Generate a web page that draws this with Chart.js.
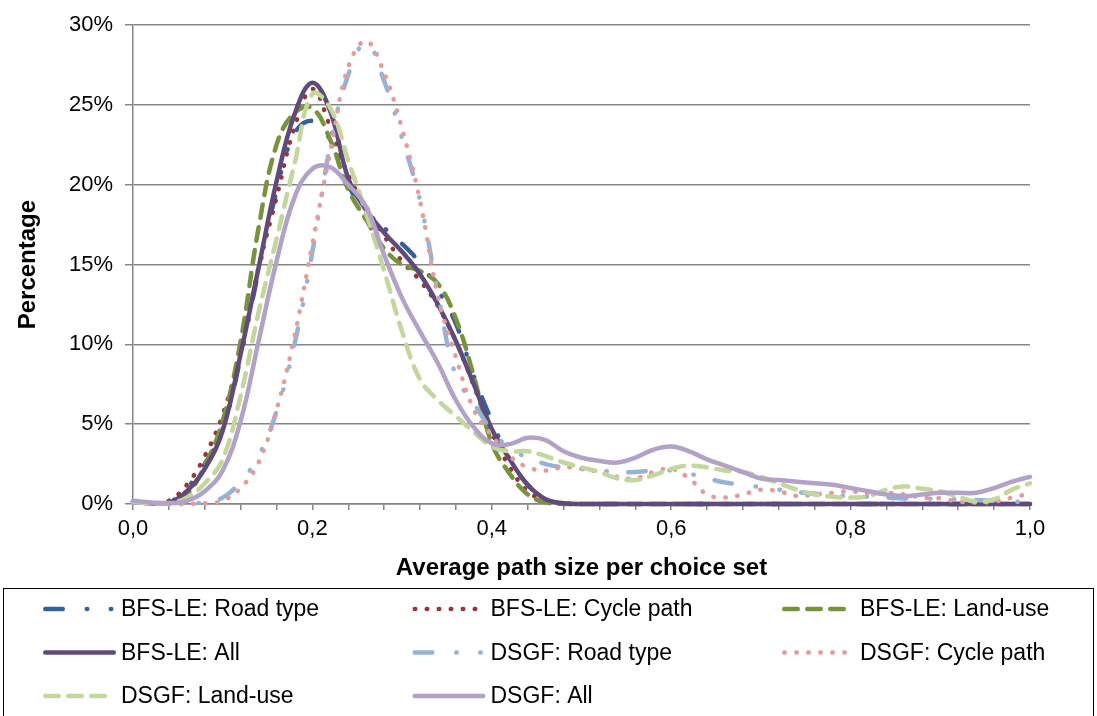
<!DOCTYPE html>
<html>
<head>
<meta charset="utf-8">
<script src="https://cdn.jsdelivr.net/npm/chart.js@4/dist/chart.umd.min.js"></script>
<style>
  body { margin: 0; background: #fff; }
  #wrap { width: 1097px; height: 716px; }
</style>
</head>
<body>
<div id="wrap"><canvas id="chart" width="1097" height="716"></canvas></div>
<script>
// x values (average path size per choice set)
const pathSize = [0.00,0.02,0.04,0.06,0.08,0.10,0.12,0.14,0.16,0.18,0.20,0.22,0.24,0.26,0.28,0.30,0.32,0.34,0.36,0.38,
                  0.40,0.42,0.44,0.46,0.48,0.50,0.52,0.54,0.56,0.58,0.60,0.62,0.64,0.66,0.68,0.70,0.72,0.74,0.76,0.78,
                  0.80,0.82,0.84,0.86,0.88,0.90,0.92,0.94,0.96,0.98,1.00];

const xTickLabels = ['0,0', '0,2', '0,4', '0,6', '0,8', '1,0'];
const yTickLabels = ['0%', '5%', '10%', '15%', '20%', '25%', '30%'];

const seriesNames = ['BFS-LE: Road type', 'BFS-LE: Cycle path', 'BFS-LE: Land-use', 'BFS-LE: All',
                     'DSGF: Road type', 'DSGF: Cycle path', 'DSGF: Land-use', 'DSGF: All'];

// percentages
const bfsRoad  = [0.15,0.05,0.1,1.0,2.5,4.7,9.2,14.6,19.6,23.2, 24.0,22.8,20.0,18.2,17.3,16.3,15.1,13.4,11.3,8.0,
                  5.2,2.8,1.2,0.3,0.05,0,0,0,0,0, 0,0,0,0,0,0,0,0,0,0, 0,0,0,0,0,0,0,0,0,0,0];
const bfsCycle = [0.15,0.05,0.2,1.2,3.0,5.6,9.6,14.8,19.2,23.6, 26.0,23.6,20.6,18.6,16.8,15.2,14.0,12.4,10.2,7.4,
                  4.5,2.3,0.8,0.2,0.05,0,0,0,0,0, 0,0,0,0,0,0,0,0,0,0, 0,0,0,0,0,0,0,0,0,0,0];
const bfsLand  = [0.15,0.05,0.1,0.6,2.4,5.2,10.2,17.3,22.5,24.5, 24.8,22.8,19.7,17.8,16.0,15.0,14.6,13.8,11.6,8.0,
                  3.8,1.9,0.6,0.1,0,0,0,0,0,0, 0,0,0,0,0,0,0,0,0,0, 0,0,0,0,0,0,0,0,0,0,0];
const bfsAll   = [0.15,0.05,0.05,0.8,2.2,4.6,9.4,14.8,20.2,24.4, 26.4,24.6,20.4,18.4,17.0,15.8,14.4,12.5,10.2,7.5,
                  4.7,2.8,1.2,0.3,0.05,0,0,0,0,0, 0,0,0,0,0,0,0,0,0,0, 0,0,0,0,0,0,0,0,0,0,0];
const dsgfRoad = [0.1,0.05,0.05,0.05,0.1,0.4,1.4,3.0,5.8,10.0, 15.8,22.5,26.9,28.9,26.5,22.9,19.0,13.2,8.0,6.3,
                  4.6,3.5,2.9,2.5,2.3,2.2,2.1,2.0,2.0,2.1, 2.1,1.9,1.6,1.35,1.2,1.05,0.9,0.75,0.65,0.55,
                  0.5,0.45,0.4,0.35,0.35,0.3,0.3,0.25,0.2,0.15,0.15];
const dsgfCycle = [0.1,0.05,0,0,0.05,0.2,1.0,2.6,5.9,10.5, 16.3,22.1,27.4,29.0,27.0,23.5,19.0,13.0,9.2,5.9,
                   4.3,3.0,2.3,2.1,2.3,2.2,2.0,1.7,1.6,2.0, 2.2,1.6,0.6,0.4,0.6,0.9,0.8,0.5,0.6,0.7,
                   0.8,0.65,0.7,0.6,0.4,0.35,0.15,0.1,0.15,0.4,0.65];
const dsgfLand = [0.15,0.05,0.05,0.4,1.3,2.8,6.8,12.0,16.6,21.3, 25.7,24.8,21.5,18.2,14.6,10.8,7.8,6.5,5.5,4.5,
                  3.6,3.3,3.3,3.0,2.6,2.3,2.0,1.6,1.5,1.8, 2.2,2.4,2.3,2.1,2.0,1.7,1.3,0.9,0.6,0.45,
                  0.4,0.5,0.9,1.1,0.95,0.8,0.45,0.15,0.3,0.9,1.3];
const dsgfAll  = [0.2,0.1,0.05,0.2,0.8,2.1,5.2,10.2,15.2,19.2, 21.0,21.1,20.0,18.6,15.6,12.9,10.8,8.8,6.5,4.8,
                  3.8,3.75,4.15,4.0,3.3,2.9,2.7,2.6,2.9,3.4, 3.6,3.3,2.8,2.4,2.0,1.6,1.5,1.4,1.3,1.2,
                  1.0,0.8,0.6,0.5,0.6,0.7,0.7,0.7,1.0,1.4,1.7];

const allSeries = [bfsRoad, bfsCycle, bfsLand, bfsAll, dsgfRoad, dsgfCycle, dsgfLand, dsgfAll];

const colors = ['#35609A', '#953735', '#77933C', '#604A7B', '#95B3D7', '#E39C9A', '#C3D69B', '#B3A2C7'];
const dashDotDot = [17.5, 24, 0.5, 23.5, 0.5, 21.5];
const dotted = [0.5, 11.5];
const dashed = [13.5, 9.5];
const dashes = [dashDotDot, dotted, dashed, [], dashDotDot, dotted, dashed, []];

const FONT = '"Liberation Sans", Arial, sans-serif';
const LINE_W = 4.5;

const datasets = allSeries.map((vals, i) => ({
    label: seriesNames[i],
    data: vals.map((v, j) => ({ x: pathSize[j], y: v })),
    borderColor: colors[i],
    backgroundColor: colors[i],
    borderWidth: LINE_W,
    borderDash: dashes[i],
    borderCapStyle: 'round',
    borderJoinStyle: 'round',
    tension: 0.4,
    pointRadius: 0,
    pointHoverRadius: 0,
    fill: false,
    clip: false,
    order: allSeries.length - i
}));

// legend drawn in three columns inside a bordered box, like the original
const boxLegend = {
    id: 'boxLegend',
    afterDraw(chart) {
        const ctx = chart.ctx;
        ctx.save();
        ctx.strokeStyle = '#000';
        ctx.lineWidth = 1;
        ctx.strokeRect(3.5, 588.5, 1090, 140);

        chart.data.datasets.forEach((ds, i) => {
            const col = i % 3, row = Math.floor(i / 3);
            const x0 = 43 + col * 369.5;
            const y = 609 + row * 43.5;
            ctx.beginPath();
            ctx.strokeStyle = ds.borderColor;
            ctx.lineWidth = ds.borderWidth;
            ctx.lineCap = 'round';
            ctx.setLineDash(ds.borderDash);
            ctx.moveTo(x0 + LINE_W / 2, y);
            ctx.lineTo(x0 + 73 - LINE_W / 2, y);
            ctx.stroke();
            ctx.setLineDash([]);
            ctx.fillStyle = '#000';
            ctx.font = '23px ' + FONT;
            ctx.textBaseline = 'middle';
            ctx.textAlign = 'left';
            ctx.fillText(ds.label, x0 + 78, y + 1);
        });
        ctx.restore();
    }
};

new Chart(document.getElementById('chart'), {
    type: 'line',
    data: { datasets },
    options: {
        responsive: false,
        animation: false,
        events: [],
        layout: { padding: { left: 14, right: 67, top: 25, bottom: 133 } },
        plugins: { legend: { display: false }, tooltip: { enabled: false } },
        scales: {
            x: {
                type: 'linear',
                min: 0,
                max: 1,
                afterFit: s => { s.height = 79; },
                ticks: {
                    stepSize: 0.04,
                    autoSkip: false,
                    maxRotation: 0,
                    padding: 6,
                    color: '#000',
                    font: { family: FONT, size: 22 },
                    callback: (v, i) => (i % 5 === 0 ? xTickLabels[i / 5] : '')
                },
                grid: { drawOnChartArea: false, tickLength: 6, color: '#868686', lineWidth: 1.5 },
                border: { color: '#868686', width: 1.5 },
                title: {
                    display: true,
                    text: 'Average path size per choice set',
                    color: '#000',
                    padding: 0,
                    font: { family: FONT, size: 24, weight: 'bold' }
                }
            },
            y: {
                min: 0,
                max: 30,
                afterFit: s => { s.width = 119; },
                ticks: {
                    stepSize: 5,
                    padding: 12,
                    color: '#000',
                    font: { family: FONT, size: 22 },
                    callback: (v, i) => yTickLabels[i]
                },
                grid: { color: '#868686', lineWidth: 1.5, tickLength: 8 },
                border: { color: '#868686', width: 1.5 },
                title: {
                    display: true,
                    text: 'Percentage',
                    color: '#000',
                    padding: 0,
                    font: { family: FONT, size: 24, weight: 'bold' }
                }
            }
        }
    },
    plugins: [boxLegend]
});
</script>
</body>
</html>
